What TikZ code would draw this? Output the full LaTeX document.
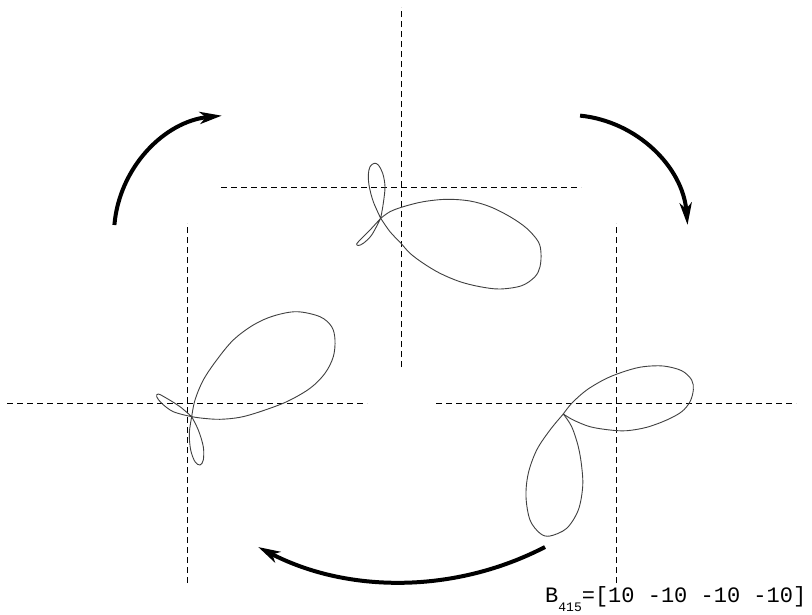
\documentclass[tikz,border=0pt]{standalone}
\usepackage{fontspec}
\newfontfamily\labelmono{Liberation Mono}
\usetikzlibrary{arrows.meta}
\begin{document}
\begin{tikzpicture}[x=1pt,y=-1pt,
  axisline/.style={dash pattern=on 6pt off 4pt, line width=0.8pt, draw=black},
  lobe/.style={line width=0.9pt, draw=black!75},
  turn/.style={line width=4pt, draw=black, -{Stealth[length=22pt,width=12pt,inset=6pt]}}]
\useasboundingbox[fill=white] (0,0) rectangle (812,614);

% ---- axes ----
\coordinate (oT) at (401,187);
\coordinate (oL) at (187,403);
\coordinate (oR) at (616,403);
\foreach \o in {oT,oL,oR}{
  \draw[axisline] ([yshift=-180pt]\o) -- ([yshift=180pt]\o);
  \draw[axisline] ([xshift=-180pt]\o) -- ([xshift=180pt]\o);
}

% ---- top figure ----
\draw[lobe] plot[smooth, tension=0.55] coordinates {(380.7,218.3) (390,211.7) (403.3,206.7) (423.3,201.7) (446.7,199.3) (470,201) (490,206.7) (510,216.7) (526.7,228.3) (538.3,241.7) (541,253.3) (540,266.7) (535,276.7) (521.7,285.7) (500,289) (480,286.7) (460,281.7) (440,273.3) (423.3,263.3) (410,253.3) (401,243.3) (390,231.7) (380.7,218.3)};
\draw[lobe] plot[smooth, tension=0.55] coordinates {(380.7,218.3) (383.3,203.3) (385,186.7) (382.7,173.3) (378.3,165) (374.3,163.3) (370,166.7) (368.3,175) (369.3,186.7) (373.3,201.7) (380.7,218.3)};
\draw[lobe] plot[smooth, tension=0.55] coordinates {(380.7,218.3) (370,230) (360,240) (356.7,244) (358.3,245.5) (363.3,243.3) (371.7,235) (380.7,218.3)};

% ---- left figure ----
\draw[lobe] plot[smooth, tension=0.55] coordinates {(191.7,416.7) (195,400) (203.3,380) (216.7,360) (233.3,340) (253.3,325) (273.3,316) (296.7,311.7) (320,316.7) (331.7,326.7) (335,340) (333.3,356.7) (325,373.3) (310,388.3) (286.7,401.7) (260,411.7) (240,417.3) (220,419.3) (203.3,418.3) (191.7,416.7)};
\draw[lobe] plot[smooth, tension=0.55] coordinates {(191.7,416.7) (180,406.7) (166.7,398.3) (158.3,394) (156.7,396.7) (161.7,403.3) (173.3,411.7) (191.7,416.7)};
\draw[lobe] plot[smooth, tension=0.55] coordinates {(191.7,416.7) (198.3,430) (203.3,446.7) (203.3,460) (200,465) (195,461.7) (190.7,450) (189.3,433.3) (191.7,416.7)};

% ---- right figure ----
\draw[lobe] plot[smooth, tension=0.55] coordinates {(563.3,414) (571.7,403.3) (586.7,390) (606.7,378.3) (626.7,370.7) (643.3,366.7) (663.3,366) (681.7,370.7) (691.7,380) (693.3,390) (690,401.7) (681.7,411.7) (666.7,420) (646.7,427.3) (626.7,430.7) (610,430) (590,426.7) (573.3,420) (563.3,414)};
\draw[lobe] plot[smooth, tension=0.55] coordinates {(563.3,414) (571.7,426.7) (578.3,446.7) (581.7,466.7) (582.7,486.7) (578.3,510) (566.7,528.3) (550,536) (540,533.3) (530,520) (526,496.7) (528.3,473.3) (536.7,450) (550,430) (563.3,414)};

% ---- rotation arrows ----
\draw[turn] (114.4,225) arc[start angle=184.8, end angle=264.2, radius=120];
\draw[turn] (580.1,115.6) arc[start angle=275.8, end angle=355.2, radius=120];
\draw[turn] (545,547) arc[start angle=62.6, end angle=117.4, radius=311.7];

% ---- label ----
\node[anchor=base west, inner sep=0pt, font=\labelmono\fontsize{22}{22}\selectfont] (lbl) at (545,602)
  {B\raisebox{-9pt}{\fontsize{13}{13}\selectfont 415}=[10 -10 -10 -10]};
\end{tikzpicture}
\end{document}
